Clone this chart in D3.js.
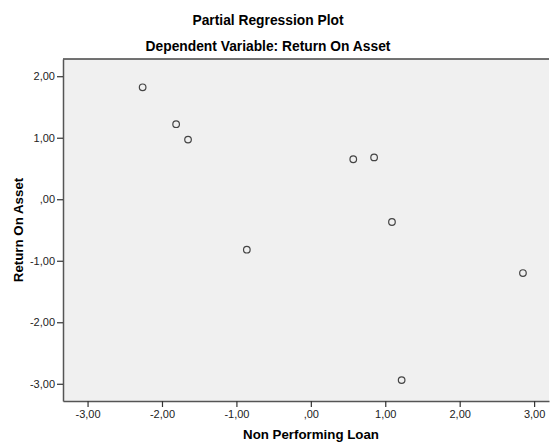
<!DOCTYPE html>
<html>
<head>
<meta charset="utf-8">
<script src="https://cdn.jsdelivr.net/npm/d3@7"></script>
<style>
  body { margin: 0; background: #fff; }
  text { font-family: "Liberation Sans", Arial, sans-serif; }
</style>
</head>
<body>
<div class="scatter-chart"></div>
<script>
// partial residuals
var npl = [-2.26, -1.81, -1.65, -0.86, 0.57, 0.85, 1.09, 2.85, 1.22];
var roa = [1.82, 1.22, 0.97, -0.82, 0.65, 0.68, -0.37, -1.20, -2.94];

var xTicks = [-3, -2, -1, 0, 1, 2, 3];
var yTicks = [2, 1, 0, -1, -2, -3];

var xDomain = [-3.33, 3.2];
var yDomain = [-3.28, 2.28];

var margin = { top: 59, right: 1, bottom: 41, left: 63 },
  width = 550 - margin.left - margin.right,
  height = 442 - margin.top - margin.bottom;

var svg = d3.select(".scatter-chart")
  .append("svg")
  .attr("width", 550)
  .attr("height", 442);

// SPSS style: comma decimals, no leading zero
function fmt(d) {
  var s = Math.abs(d).toFixed(2).replace(".", ",");
  if (s.charAt(0) == "0") s = s.slice(1);
  return (d < 0 ? "-" : "") + s;
}

svg.append("text")
  .attr("x", 268).attr("y", 25)
  .attr("text-anchor", "middle")
  .style("font-size", "13.8px").style("font-weight", "bold")
  .text("Partial Regression Plot");

svg.append("text")
  .attr("x", 268).attr("y", 51)
  .attr("text-anchor", "middle")
  .style("font-size", "13.8px").style("font-weight", "bold")
  .text("Dependent Variable: Return On Asset");

var g = svg.append("g")
  .attr("transform", "translate(" + margin.left + "," + margin.top + ")");

var x = d3.scaleLinear().domain(xDomain).range([0, width]);
var y = d3.scaleLinear().domain(yDomain).range([height, 0]);

g.append("rect")
  .attr("width", width).attr("height", height)
  .style("fill", "#f0f0f0");

g.append("line")
  .attr("x1", 0).attr("x2", width).attr("y1", 0).attr("y2", 0)
  .style("stroke", "#444").style("stroke-width", 1.5);

var xAxis = g.append("g")
  .attr("transform", "translate(0," + height + ")")
  .call(d3.axisBottom(x).tickValues(xTicks).tickFormat(fmt).tickSize(6).tickSizeOuter(0).tickPadding(3));

var yAxis = g.append("g")
  .call(d3.axisLeft(y).tickValues(yTicks).tickFormat(fmt).tickSize(6).tickSizeOuter(0).tickPadding(2));

[xAxis, yAxis].forEach(function(a) {
  a.select(".domain").style("stroke", "#555").style("stroke-width", 1.5);
  a.selectAll(".tick line").style("stroke", "#333").style("stroke-width", 1.2);
  a.selectAll(".tick text")
    .style("font-size", "11px")
    .style("font-family", "'Liberation Sans', Arial, sans-serif")
    .style("fill", "#222");
});

g.selectAll(".dot")
  .data(npl.map(function(v, i) { return [v, roa[i]]; }))
  .enter().append("circle")
    .attr("class", "dot")
    .attr("cx", function(d) { return x(d[0]); })
    .attr("cy", function(d) { return y(d[1]); })
    .attr("r", 3.3)
    .style("fill", "none")
    .style("stroke", "#444")
    .style("stroke-width", 1.2);

svg.append("text")
  .attr("x", 311).attr("y", 439)
  .attr("text-anchor", "middle")
  .style("font-size", "13.3px").style("font-weight", "bold")
  .text("Non Performing Loan");

svg.append("text")
  .attr("transform", "translate(23," + (margin.top + height / 2) + ") rotate(-90)")
  .attr("text-anchor", "middle")
  .style("font-size", "13.3px").style("font-weight", "bold")
  .text("Return On Asset");
</script>
</body>
</html>
